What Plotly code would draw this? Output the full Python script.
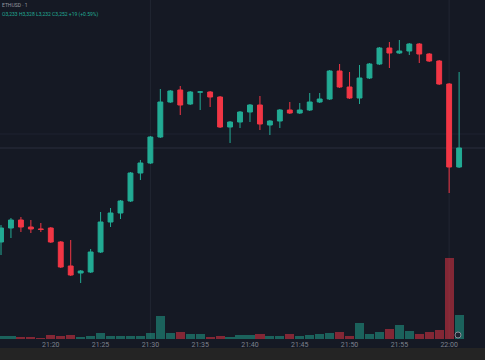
import plotly.graph_objects as go

times = ["21:15","21:16","21:17","21:18","21:19","21:20","21:21","21:22","21:23","21:24",
         "21:25","21:26","21:27","21:28","21:29","21:30","21:31","21:32","21:33","21:34",
         "21:35","21:36","21:37","21:38","21:39","21:40","21:41","21:42","21:43","21:44",
         "21:45","21:46","21:47","21:48","21:49","21:50","21:51","21:52","21:53","21:54",
         "21:55","21:56","21:57","21:58","21:59","22:00","22:01"]

opens = [3158,3172,3180,3173,3171,3172,3158,3134,3127,3128,
         3148,3178,3187,3199,3227,3237,3263,3298,3310,3296,
         3308,3308,3303,3273,3278,3288,3295,3275,3279,3290,
         3287,3290,3298,3301,3329,3313,3302,3322,3336,3352,
         3347,3349,3356,3346,3339,3316,3233]
highs = [3175,3182,3183,3180,3177,3173,3159,3160,3130,3151,
         3188,3192,3200,3228,3240,3264,3311,3310,3314,3309,
         3309,3309,3304,3279,3289,3296,3304,3280,3291,3298,
         3297,3307,3307,3330,3336,3328,3335,3337,3353,3358,
         3360,3357,3357,3347,3340,3317,3328]
lows = [3145,3162,3168,3167,3168,3157,3132,3124,3117,3127,
        3147,3173,3181,3198,3220,3236,3262,3297,3285,3295,
        3290,3293,3272,3257,3272,3278,3270,3265,3272,3286,
        3286,3289,3297,3300,3312,3301,3296,3321,3335,3332,
        3346,3345,3337,3338,3315,3207,3232]
closes = [3172,3180,3173,3171,3170.6,3158,3133,3125,3129,3148,
          3178,3187,3199,3227,3237,3263,3298,3309,3295,3308,
          3308,3303,3273,3278,3288,3295,3276,3279,3290,3287,
          3290,3298,3301,3329,3313,3302,3322,3336,3352,3347,
          3349,3356,3346,3339,3316,3233,3252]
volumes = [30,30,20,20,10,40,30,40,20,30,
           60,30,30,30,30,60,230,60,70,50,
           50,20,30,20,40,40,50,30,30,50,
           30,40,50,60,70,30,160,50,70,100,
           140,80,50,70,90,810,240]

grid_times = ["21:30", "22:00"]
crosshair_price = 3266

UP = "#22ab94"
DOWN = "#f23645"
UP_V = "rgba(34,171,148,0.5)"
DOWN_V = "rgba(242,54,69,0.5)"
BG = "#151924"
DAY = "2025-01-10 "

x = [DAY + t for t in times]
vcolors = [UP_V if c >= o else DOWN_V for o, c in zip(opens, closes)]

fig = go.Figure()
fig.add_trace(go.Bar(x=x, y=volumes, marker=dict(color=vcolors, line=dict(width=0)),
                     width=60000 * 0.92, yaxis="y2", hoverinfo="skip"))
fig.add_trace(go.Candlestick(x=x, open=opens, high=highs, low=lows, close=closes,
                             increasing=dict(line=dict(color=UP, width=1), fillcolor=UP),
                             decreasing=dict(line=dict(color=DOWN, width=1), fillcolor=DOWN),
                             whiskerwidth=0))

shapes = [dict(type="rect", xref="paper", yref="paper", x0=0, x1=1,
               y0=-0.2, y1=-0.0265, fillcolor="#242424",
               line=dict(width=0), layer="below")]
for gt in grid_times:
    shapes.append(dict(type="line", xref="x", yref="paper", x0=DAY + gt, x1=DAY + gt,
                       y0=0, y1=1, line=dict(color="#222633", width=1), layer="below"))
shapes.append(dict(type="line", xref="paper", yref="y", x0=0, x1=1,
                   y0=crosshair_price, y1=crosshair_price,
                   line=dict(color="#1f2330", width=1), layer="below"))
shapes.append(dict(type="line", xref="paper", yref="y", x0=0, x1=1,
                   y0=closes[-1], y1=closes[-1],
                   line=dict(color="#2a2f3c", width=1), layer="below"))
shapes.append(dict(type="circle", xref="paper", yref="paper",
                   x0=455 / 485, x1=461 / 485, y0=1 / 339, y1=7 / 339,
                   line=dict(color="#8a8e99", width=1), fillcolor="#1e2230"))

fig.update_layout(
    width=485, height=360,
    margin=dict(l=0, r=0, t=0, b=21),
    paper_bgcolor=BG, plot_bgcolor=BG,
    showlegend=False,
    bargap=0,
    xaxis=dict(type="date", range=[DAY + "21:14:54", DAY + "22:03:36"],
               rangeslider=dict(visible=False), tickformat="%H:%M",
               dtick=300000, tick0=DAY + "21:15",
               showgrid=False,
               tickfont=dict(size=7, color="#7e828d", family="Roboto"),
               ticks="", zeroline=False, showline=False),
    yaxis=dict(range=[3061, 3400], showticklabels=False, showgrid=False, zeroline=False),
    yaxis2=dict(range=[0, 3390], overlaying="y", showticklabels=False,
                showgrid=False, zeroline=False),
    shapes=shapes,
    annotations=[
        dict(xref="paper", yref="paper", x=0.0, y=1.0, xanchor="left", yanchor="top",
             text="ETHUSD · 1", showarrow=False,
             font=dict(size=5, color="#9598a1", family="Roboto")),
        dict(xref="paper", yref="paper", x=0.0, y=0.958, xanchor="left", yanchor="middle",
             text="O3,233 H3,328 L3,232 C3,252 +19 (+0.59%)", showarrow=False,
             font=dict(size=5, color="#22ab94", family="Roboto")),
    ],
)

fig.write_html("out.html", config={"displayModeBar": False},
               post_script="document.body.style.margin='0px';")
